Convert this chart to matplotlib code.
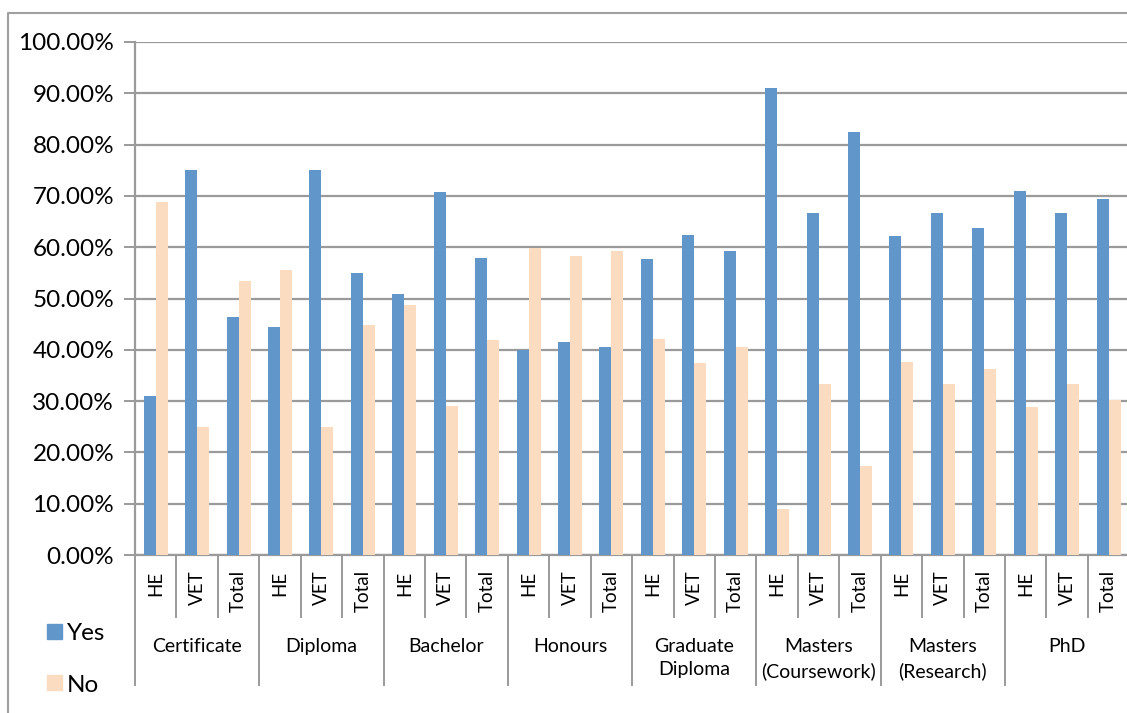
import numpy as np
import matplotlib.pyplot as plt
from matplotlib.lines import Line2D
from matplotlib.transforms import blended_transform_factory

plt.rcParams['font.family'] = ['Lato', 'DejaVu Sans']

groups = ['Certificate', 'Diploma', 'Bachelor', 'Honours', 'Graduate\nDiploma',
          'Masters\n(Coursework)', 'Masters\n(Research)', 'PhD']
subs = ['HE', 'VET', 'Total']

# percent values, group by group (HE, VET, Total)
yes = [31.0, 75.0, 46.3,
       44.4, 75.0, 55.0,
       50.9, 70.7, 57.8,
       39.9, 41.5, 40.5,
       57.7, 62.4, 59.3,
       91.0, 66.6, 82.5,
       62.1, 66.6, 63.7,
       71.0, 66.6, 69.4]
no = [68.8, 25.0, 53.5,
      55.5, 25.0, 44.8,
      48.8, 29.0, 41.9,
      59.9, 58.3, 59.3,
      42.1, 37.4, 40.6,
      8.9, 33.3, 17.3,
      37.7, 33.3, 36.2,
      28.8, 33.3, 30.3]

blue = '#6096C9'
peach = '#FBDCC1'
grid = '#9A9A9A'

fig = plt.figure(figsize=(11.27, 7.13), dpi=100)
ax = fig.add_axes([135 / 1127, 1 - 555 / 713, 1 - 135 / 1127 + 0.002, 513 / 713])

n = len(yes)
x = np.arange(n)
w = 0.29
ax.bar(x - w / 2, np.array(yes) / 100, w, color=blue, zorder=3)
ax.bar(x + w / 2, np.array(no) / 100, w, color=peach, zorder=3)

ax.set_xlim(-0.5, n - 0.5)
ax.set_ylim(0, 1)
ax.set_yticks(np.arange(0, 1.01, 0.1))
ax.set_yticklabels(['%.2f%%' % (v * 100) for v in np.arange(0, 1.01, 0.1)], fontsize=17.5)
ax.yaxis.grid(True, color=grid, lw=1.6, zorder=0)
ax.tick_params(axis='y', length=8, width=1.4, color=grid, pad=7)

ax.set_xticks(x)
ax.set_xticklabels(subs * len(groups), rotation=90, fontsize=13.5, va='top')
ax.tick_params(axis='x', length=0, pad=11)

for s in ['top', 'right']:
    ax.spines[s].set_visible(False)
ax.spines['left'].set_color(grid)
ax.spines['left'].set_linewidth(1.6)
ax.spines['bottom'].set_color(grid)
ax.spines['bottom'].set_linewidth(1.6)

# multi-level category separators and group labels
tr = blended_transform_factory(ax.transData, ax.transAxes)
for i in range(n + 1):
    bottom = -0.253 if i % 3 == 0 else -0.121
    ax.add_line(Line2D([i - 0.5, i - 0.5], [0, bottom], transform=tr,
                       color=grid, lw=1.4, clip_on=False))
for g, name in enumerate(groups):
    ax.text(g * 3 + 1, -0.162, name, transform=tr, ha='center', va='top',
            fontsize=14, linespacing=1.45)

# legend
fig.patches.append(plt.Rectangle((47 / 1127, 1 - 639 / 713), 15 / 1127, 15 / 713,
                                 transform=fig.transFigure, color=blue))
fig.patches.append(plt.Rectangle((47 / 1127, 1 - 690 / 713), 15 / 1127, 15 / 713,
                                 transform=fig.transFigure, color=peach))
fig.text(67 / 1127, 1 - 633 / 713, 'Yes', fontsize=17.5, va='center')
fig.text(67 / 1127, 1 - 685 / 713, 'No', fontsize=17.5, va='center')

# outer chart border
fig.add_artist(Line2D([8 / 1127, 8 / 1127, 1.0], [0, 1 - 13 / 713, 1 - 13 / 713],
                      transform=fig.transFigure, color='#A0A0A0', lw=1.5))

fig.savefig('out.png', dpi=100)
